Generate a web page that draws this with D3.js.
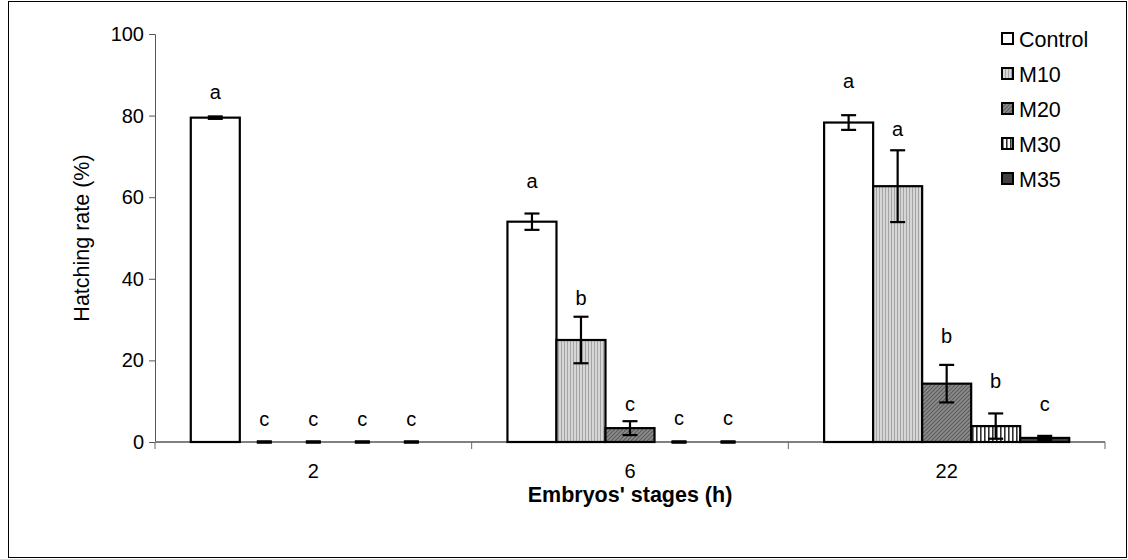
<!DOCTYPE html>
<html>
<head>
<meta charset="utf-8">
<script src="https://cdn.jsdelivr.net/npm/d3@7"></script>
<style>
  body { margin: 0; background: #fff; }
  svg { font-family: "Liberation Sans", Arial, sans-serif; }
</style>
</head>
<body>
<div id="chart"></div>
<script>
'use strict';

var stages = ['2', '6', '22'];
var series = ['Control', 'M10', 'M20', 'M30', 'M35'];
var yTicks = [0, 20, 40, 60, 80, 100];

// mean hatching rate per series, one value per stage
var controlVals = [79.5, 54.0, 78.3];
var m10Vals = [0, 25.0, 62.7];
var m20Vals = [0, 3.4, 14.3];
var m30Vals = [0, 0, 3.9];
var m35Vals = [0, 0, 1.0];

// error bar half lengths
var controlErr = [0.3, 2.0, 1.8];
var m10Err = [0, 5.7, 8.8];
var m20Err = [0, 1.7, 4.6];
var m30Err = [0, 0, 3.1];
var m35Err = [0, 0, 0.5];

// significance letters and where they sit (in % units)
var controlLetters = ['a', 'a', 'a'];
var m10Letters = ['c', 'b', 'a'];
var m20Letters = ['c', 'c', 'b'];
var m30Letters = ['c', 'c', 'b'];
var m35Letters = ['c', 'c', 'c'];
var controlLetterY = [85.5, 63.7, 88.2];
var m10LetterY = [5.4, 35.0, 76.5];
var m20LetterY = [5.4, 9.1, 25.7];
var m30LetterY = [5.4, 5.6, 14.8];
var m35LetterY = [5.4, 5.6, 9.1];

var allVals = [controlVals, m10Vals, m20Vals, m30Vals, m35Vals];
var allErr = [controlErr, m10Err, m20Err, m30Err, m35Err];
var allLetters = [controlLetters, m10Letters, m20Letters, m30Letters, m35Letters];
var allLetterY = [controlLetterY, m10LetterY, m20LetterY, m30LetterY, m35LetterY];

(function () {
    var width = 1128, height = 559;
    var plotLeft = 155, plotRight = 1105, plotTop = 34, plotBottom = 442;
    var fs = 20, fsBig = 21.5;

    var svg = d3.select('#chart').append('svg')
        .attr('width', width)
        .attr('height', height);

    // patterns
    var defs = svg.append('defs');

    var p10 = defs.append('pattern').attr('id', 'pM10')
        .attr('patternUnits', 'userSpaceOnUse').attr('width', 3).attr('height', 3);
    p10.append('rect').attr('width', 3).attr('height', 3).attr('fill', '#d6d6d6');
    p10.append('rect').attr('width', 1).attr('height', 3).attr('fill', '#a4a4a4');

    var p20 = defs.append('pattern').attr('id', 'pM20')
        .attr('patternUnits', 'userSpaceOnUse').attr('width', 4).attr('height', 4);
    p20.append('rect').attr('width', 4).attr('height', 4).attr('fill', '#8c8c8c');
    p20.append('path').attr('d', 'M-1,1 L1,-1 M0,4 L4,0 M3,5 L5,3')
        .attr('stroke', '#5c5c5c').attr('stroke-width', 1.2);

    var p30 = defs.append('pattern').attr('id', 'pM30')
        .attr('patternUnits', 'userSpaceOnUse').attr('width', 4).attr('height', 4);
    p30.append('rect').attr('width', 4).attr('height', 4).attr('fill', '#ffffff');
    p30.append('rect').attr('width', 1.6).attr('height', 4).attr('fill', '#303030');

    var fills = {
        Control: '#ffffff',
        M10: 'url(#pM10)',
        M20: 'url(#pM20)',
        M30: 'url(#pM30)',
        M35: '#404040'
    };

    // outer frame
    svg.append('rect')
        .attr('x', 8.5).attr('y', 1.5)
        .attr('width', 1118).attr('height', 556)
        .attr('fill', 'none').attr('stroke', '#000').attr('stroke-width', 1);

    var x = d3.scaleBand().domain(stages).range([plotLeft, plotRight]).padding(0);
    var xs = d3.scaleBand().domain(series).range([0, x.bandwidth()])
        .paddingInner(0).paddingOuter(0.73);
    var y = d3.scaleLinear().domain([0, 100]).range([plotBottom, plotTop]);

    // y axis
    var yAxis = svg.append('g')
        .attr('transform', 'translate(' + plotLeft + ',0)')
        .call(d3.axisLeft(y).tickValues(yTicks).tickSize(6).tickPadding(5).tickFormat(d3.format('d')));
    yAxis.select('.domain').attr('stroke', '#555');
    yAxis.selectAll('.tick line').attr('stroke', '#555');
    yAxis.selectAll('text').attr('font-size', fs).attr('fill', '#000')
        .attr('font-family', '"Liberation Sans", Arial, sans-serif');

    // x axis with ticks between categories
    var xAxisG = svg.append('g').attr('transform', 'translate(0,' + plotBottom + ')');
    xAxisG.append('line')
        .attr('x1', plotLeft).attr('x2', plotRight)
        .attr('stroke', '#808080').attr('stroke-width', 2);
    xAxisG.selectAll('line.sep')
        .data(stages.concat(['end']))
        .enter().append('line')
        .attr('class', 'sep')
        .attr('x1', function (d, i) { return plotLeft + i * x.bandwidth(); })
        .attr('x2', function (d, i) { return plotLeft + i * x.bandwidth(); })
        .attr('y1', 0).attr('y2', 7)
        .attr('stroke', '#666').attr('stroke-width', 1);
    xAxisG.selectAll('text.cat')
        .data(stages)
        .enter().append('text')
        .attr('class', 'cat')
        .attr('x', function (d) { return x(d) + x.bandwidth() / 2; })
        .attr('y', 36)
        .attr('text-anchor', 'middle')
        .attr('font-size', fs)
        .text(function (d) { return d; });

    // flatten data
    var bars = [];
    series.forEach(function (s, si) {
        stages.forEach(function (st, ti) {
            bars.push({
                series: s, stage: st,
                value: allVals[si][ti],
                err: allErr[si][ti],
                letter: allLetters[si][ti],
                letterY: allLetterY[si][ti]
            });
        });
    });

    var barG = svg.append('g');
    barG.selectAll('rect.bar')
        .data(bars.filter(function (d) { return d.value > 0; }))
        .enter().append('rect')
        .attr('class', 'bar')
        .attr('x', function (d) { return x(d.stage) + xs(d.series); })
        .attr('y', function (d) { return y(d.value); })
        .attr('width', xs.bandwidth())
        .attr('height', function (d) { return y(0) - y(d.value); })
        .attr('fill', function (d) { return fills[d.series]; })
        .attr('stroke', '#000')
        .attr('stroke-width', 2.2);

    // error bars
    var capW = 15;
    var errG = barG.selectAll('g.err')
        .data(bars)
        .enter().append('g')
        .attr('class', 'err')
        .attr('transform', function (d) {
            return 'translate(' + (x(d.stage) + xs(d.series) + xs.bandwidth() / 2) + ',0)';
        });
    errG.append('line')
        .attr('y1', function (d) { return y(d.value + d.err); })
        .attr('y2', function (d) { return y(Math.max(0, d.value - d.err)); })
        .attr('stroke', '#000').attr('stroke-width', 2.2);
    errG.append('line')
        .attr('x1', -capW / 2).attr('x2', capW / 2)
        .attr('y1', function (d) { return y(d.value + d.err); })
        .attr('y2', function (d) { return y(d.value + d.err); })
        .attr('stroke', '#000')
        .attr('stroke-width', function (d) { return d.value === 0 ? 3.5 : 2.2; });
    errG.append('line')
        .attr('x1', -capW / 2).attr('x2', capW / 2)
        .attr('y1', function (d) { return y(Math.max(0, d.value - d.err)); })
        .attr('y2', function (d) { return y(Math.max(0, d.value - d.err)); })
        .attr('stroke', '#000').attr('stroke-width', 2.2);

    // letters
    barG.selectAll('text.letter')
        .data(bars)
        .enter().append('text')
        .attr('class', 'letter')
        .attr('x', function (d) { return x(d.stage) + xs(d.series) + xs.bandwidth() / 2; })
        .attr('y', function (d) { return y(d.letterY); })
        .attr('dy', '0.3em')
        .attr('text-anchor', 'middle')
        .attr('font-size', fs)
        .text(function (d) { return d.letter; });

    // axis titles
    svg.append('text')
        .attr('transform', 'translate(89,' + ((plotTop + plotBottom) / 2) + ') rotate(-90)')
        .attr('text-anchor', 'middle')
        .attr('font-size', fsBig)
        .text('Hatching rate (%)');

    svg.append('text')
        .attr('x', (plotLeft + plotRight) / 2)
        .attr('y', 502)
        .attr('text-anchor', 'middle')
        .attr('font-size', fsBig)
        .attr('font-weight', 'bold')
        .text("Embryos' stages (h)");

    // legend
    var legend = svg.append('g').attr('transform', 'translate(1002,0)');
    var legItems = legend.selectAll('g.item')
        .data(series)
        .enter().append('g')
        .attr('class', 'item')
        .attr('transform', function (d, i) { return 'translate(0,' + (38 + i * 35) + ')'; });
    legItems.append('rect')
        .attr('x', 0).attr('y', -5)
        .attr('width', 11).attr('height', 11)
        .attr('fill', function (d) { return fills[d]; })
        .attr('stroke', '#000').attr('stroke-width', 2);
    legItems.append('text')
        .attr('x', 17).attr('y', 1).attr('dy', '0.35em')
        .attr('font-size', fsBig)
        .text(function (d) { return d; });
})();
</script>
</body>
</html>
